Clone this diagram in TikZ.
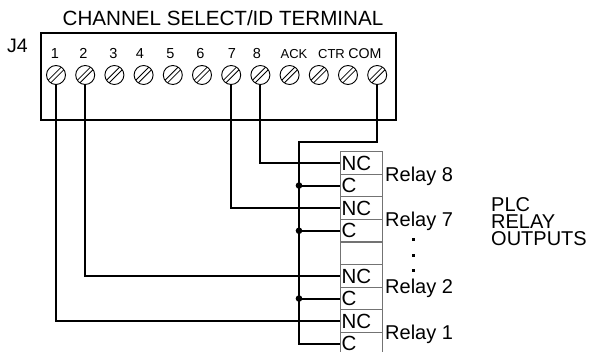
\documentclass[tikz,border=0pt]{standalone}
\usepackage{fontspec}
\setmainfont{Liberation Sans}

\begin{document}
\begin{tikzpicture}[x=1pt,y=-1pt]
		\tikzset{terminal/.style = {circle, draw, fill=white, line width=0.9pt, minimum size=19pt, inner sep=0pt,
				path picture={
					\draw[line width=0.8pt] ([shift={(-9.8pt,-7.2pt)}]path picture bounding box.center) -- ++(17pt,17pt);
					\draw[line width=0.8pt] ([shift={(-7.2pt,-9.8pt)}]path picture bounding box.center) -- ++(17pt,17pt);}}}
		\tikzset{tlabel/.style = {font=\fontsize{14.5}{14.5}\selectfont, inner sep=0pt, anchor=base}}
		\tikzset{row/.style = {draw=black!55, line width=1.3pt, minimum width=42pt, minimum height=22.6pt,
				text width=40pt, inner xsep=1pt, inner ysep=0pt, align=left, anchor=north west,
				font=\fontsize{20.5}{20.5}\selectfont}}
		\tikzset{relay/.style = {font=\fontsize{20}{20}\selectfont, inner sep=0pt, anchor=base west}}
		\tikzset{wire/.style = {line width=2pt}}
		
		\useasboundingbox (0,0) rectangle (594,352);
		
		\node[relay, anchor=base, font=\fontsize{20.6}{20.6}\selectfont] (title) at (223,26) {CHANNEL SELECT/ID TERMINAL};
		\node[relay, font=\fontsize{19.5}{19.5}\selectfont] (j4) at (7,53) {J4};
		\node[draw, line width=2pt, minimum width=355pt, minimum height=87pt, anchor=north west] (block) at (40,32) {};
		
		\node[terminal] (t1)  at ( 56.0,75) {};
		\node[terminal] (t2)  at ( 85.2,75) {};
		\node[terminal] (t3)  at (114.4,75) {};
		\node[terminal] (t4)  at (143.6,75) {};
		\node[terminal] (t5)  at (172.8,75) {};
		\node[terminal] (t6)  at (202.0,75) {};
		\node[terminal] (t7)  at (231.2,75) {};
		\node[terminal] (t8)  at (260.4,75) {};
		\node[terminal] (t9)  at (289.6,75) {};
		\node[terminal] (t10) at (318.8,75) {};
		\node[terminal] (t11) at (348.0,75) {};
		\node[terminal] (t12) at (377.2,75) {};
		
		\node[tlabel] (l1)   at ( 55.0,59) {1};
		\node[tlabel] (l2)   at ( 83.5,59) {2};
		\node[tlabel] (l3)   at (113.5,59) {3};
		\node[tlabel] (l4)   at (140.0,59) {4};
		\node[tlabel] (l5)   at (170.5,59) {5};
		\node[tlabel] (l6)   at (200.5,59) {6};
		\node[tlabel] (l7)   at (232.0,59) {7};
		\node[tlabel] (l8)   at (257.0,59) {8};
		\node[tlabel, font=\fontsize{13}{13}\selectfont]   (lack) at (294.0,59) {ACK};
		\node[tlabel, font=\fontsize{13}{13}\selectfont]   (lctr) at (331.5,59) {CTR};
		\node[tlabel, font=\fontsize{14.2}{14.2}\selectfont] (lcom) at (365.0,59) {COM};
		
		% relay contacts
		\node[row] (nc8) at (340,151.0) {NC};
		\node[row] (c8)  at (340,173.6) {C};
		\node[row] (nc7) at (340,196.2) {NC};
		\node[row] (c7)  at (340,218.8) {C};
		\node[row] (gap) at (340,241.4) {};
		\node[row] (nc2) at (340,264.0) {NC};
		\node[row] (c2)  at (340,286.6) {C};
		\node[row] (nc1) at (340,309.2) {NC};
		\node[row] (c1)  at (340,331.8) {C};
		
		\node[relay] (r8) at (385,181.7) {Relay 8};
		\node[relay] (r7) at (385,226.7) {Relay 7};
		\node[relay] (r2) at (385,293.3) {Relay 2};
		\node[relay] (r1) at (385,340.0) {Relay 1};
		\fill (411.5,238.5) rectangle ++(3,3);
		\fill (411.5,254.2) rectangle ++(3,3);
		\fill (411.5,269.2) rectangle ++(3,3);
		
		\node[relay, anchor=north west, align=left, font=\fontsize{20}{17}\selectfont] (plc) at (491,197) {PLC\\RELAY\\OUTPUTS};
		
		% wiring
		\coordinate (bustop) at (299,142);
		\coordinate (j8) at (bustop |- c8);
		\coordinate (j7) at (bustop |- c7);
		\coordinate (j2) at (bustop |- c2);
		
		\draw[wire] (t1) |- (nc1);
		\draw[wire] (t2) |- (nc2);
		\draw[wire] (t7) |- (nc7);
		\draw[wire] (t8) |- (nc8);
		\draw[wire] (t12) |- (bustop) |- (c1);
		\draw[wire] (j8) -- (c8);
		\draw[wire] (j7) -- (c7);
		\draw[wire] (j2) -- (c2);
		\fill (j8) circle (3.3pt);
		\fill (j7) circle (3.3pt);
		\fill (j2) circle (3.3pt);
		\end{tikzpicture}
\end{document}
